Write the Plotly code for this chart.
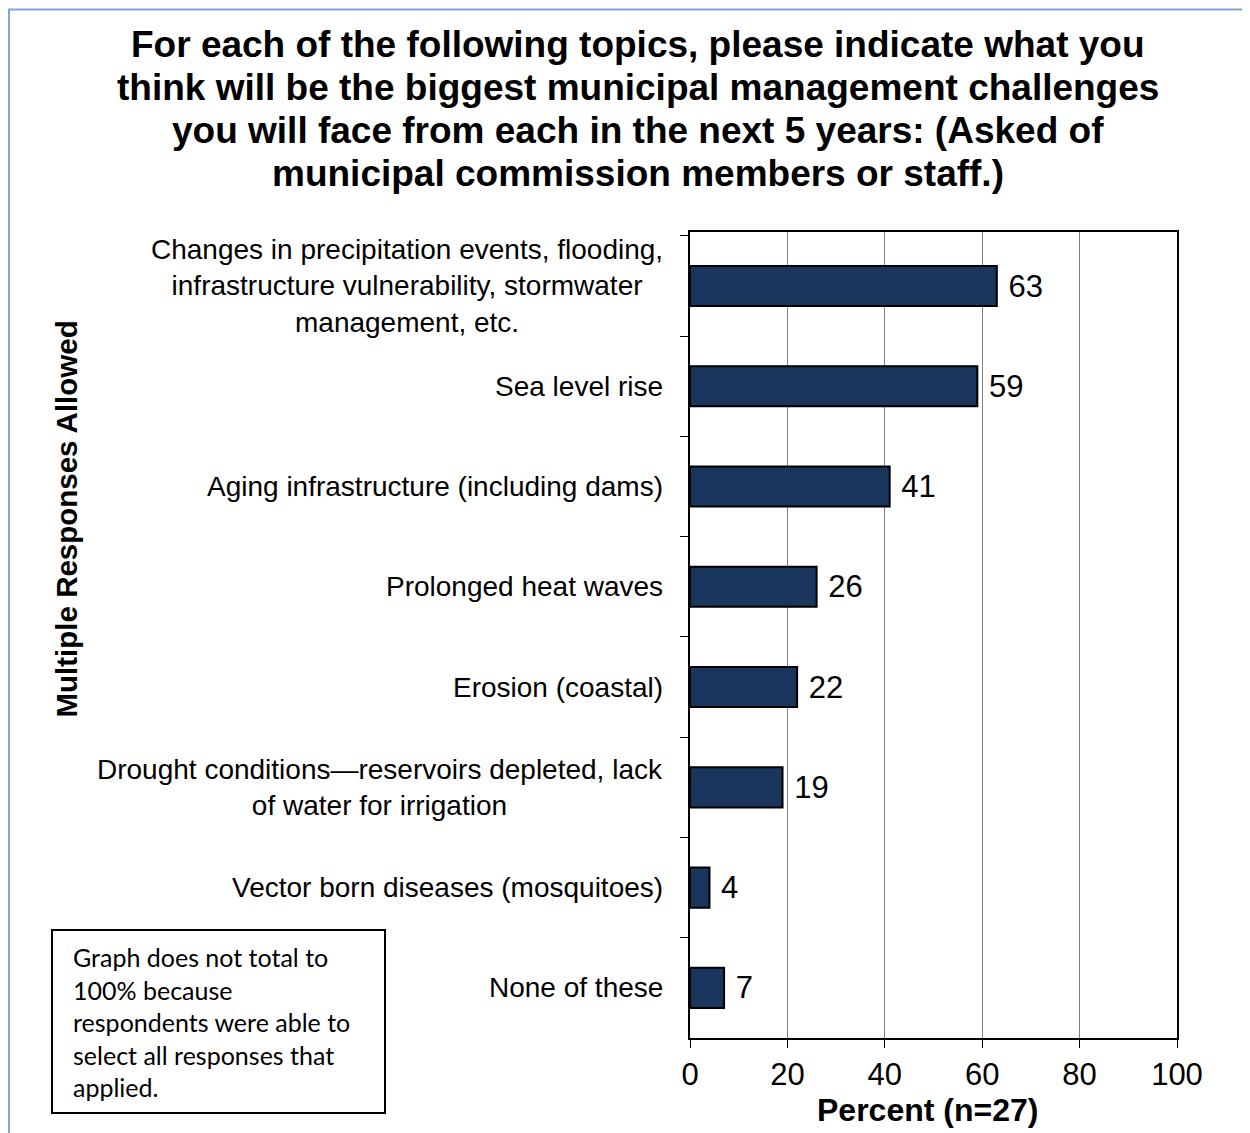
import plotly.graph_objects as go

# survey results, percent of respondents (n=27)
categories = [
    "Changes in precipitation events, flooding,<br>infrastructure vulnerability, stormwater<br>management, etc.",
    "Sea level rise",
    "Aging infrastructure (including dams)",
    "Prolonged heat waves",
    "Erosion (coastal)",
    "Drought conditions\u2014reservoirs depleted, lack<br>of water for irrigation",
    "Vector born diseases (mosquitoes)",
    "None of these",
]
percent = [63, 59, 41, 26, 22, 19, 4, 7]
x_ticks = [0, 20, 40, 60, 80, 100]

title_lines = [
    "For each of the following topics, please indicate what you",
    "think will be the biggest municipal management challenges",
    "you will face from each in the next 5 years: (Asked of",
    "municipal commission members or staff.)",
]
note_lines = [
    "Graph does not total to",
    "100% because",
    "respondents were able to",
    "select all responses that",
    "applied.",
]

OFF = 8  # page body margin
W, H = 1250 - OFF, 1133 - OFF
# plot area in page pixels
PL, PR, PT, PB = 690, 1177, 232, 1038
L, R, T, B = PL - OFF, PR - OFF, PT - OFF, PB - OFF


def px_x(x):
    return (x - PL) / (PR - PL)


def px_y(y):
    return (PB - y) / (PB - PT)


fig = go.Figure(go.Bar(
    x=percent, y=categories, orientation="h",
    marker=dict(color="#1b365d", line=dict(color="black", width=2)),
    text=percent, texttemplate="\u00a0%{x}", textposition="outside",
    textfont=dict(family="Liberation Sans, Arial", size=31, color="black"),
    constraintext="none", cliponaxis=False, width=0.4, showlegend=False,
))

fig.update_xaxes(
    range=[0, 100], tickvals=x_ticks, showgrid=True, gridcolor="#808080", gridwidth=1,
    showline=True, mirror=True, linecolor="black", linewidth=2,
    ticks="outside", ticklen=8, tickcolor="black", zeroline=False,
    tickfont=dict(family="Liberation Sans, Arial", size=31, color="black"),
)
fig.update_yaxes(
    autorange="reversed", showticklabels=False, tickson="boundaries",
    ticks="outside", ticklen=8, tickcolor="black",
    showline=True, mirror=True, linecolor="black", linewidth=2, showgrid=False,
)

ann = []
# category labels: centred lines in a right-aligned block
for c in categories:
    ann.append(dict(x=0, xref="paper", y=c, yref="y", text=c, showarrow=False,
                    xanchor="right", yanchor="middle", xshift=-25, align="center",
                    font=dict(family="Liberation Sans, Arial", size=28, color="black")))
# title
for i, line in enumerate(title_lines):
    ann.append(dict(x=px_x(638), y=px_y(44 + 43 * i), xref="paper", yref="paper",
                    text="<b>" + line + "</b>", showarrow=False, xanchor="center", yanchor="middle",
                    font=dict(family="Liberation Sans, Arial", size=37, color="black")))
# axis titles
ann.append(dict(x=px_x(47), y=px_y(519), xref="paper", yref="paper", textangle=-90,
                text="<b>Multiple Responses Allowed</b>", showarrow=False,
                font=dict(family="Liberation Sans, Arial", size=29.5, color="black")))
ann.append(dict(x=px_x(927), y=px_y(1110), xref="paper", yref="paper",
                text="<b>Percent (n=27)</b>", showarrow=False, yanchor="middle",
                font=dict(family="Liberation Sans, Arial", size=32, color="black")))
# note box text
for i, line in enumerate(note_lines):
    ann.append(dict(x=px_x(71), y=px_y(957 + 32.5 * i), xref="paper", yref="paper",
                    text=line, showarrow=False, xanchor="left", yanchor="middle",
                    font=dict(family="Lato", size=25, color="black")))

shapes = [
    # note box
    dict(type="rect", xref="paper", yref="paper", x0=px_x(52), x1=px_x(385),
         y0=px_y(930), y1=px_y(1113), line=dict(color="black", width=2)),
    # outer blue frame
    dict(type="rect", xref="paper", yref="paper", x0=px_x(9), x1=px_x(1265),
         y0=px_y(1150), y1=px_y(9.5), line=dict(color="#7aa6e2", width=2)),
]

fig.update_layout(
    width=W, height=H, margin=dict(l=L, r=W - R, t=T, b=H - B),
    plot_bgcolor="white", paper_bgcolor="white",
    annotations=ann, shapes=shapes,
)

fig.write_html("out.html")
